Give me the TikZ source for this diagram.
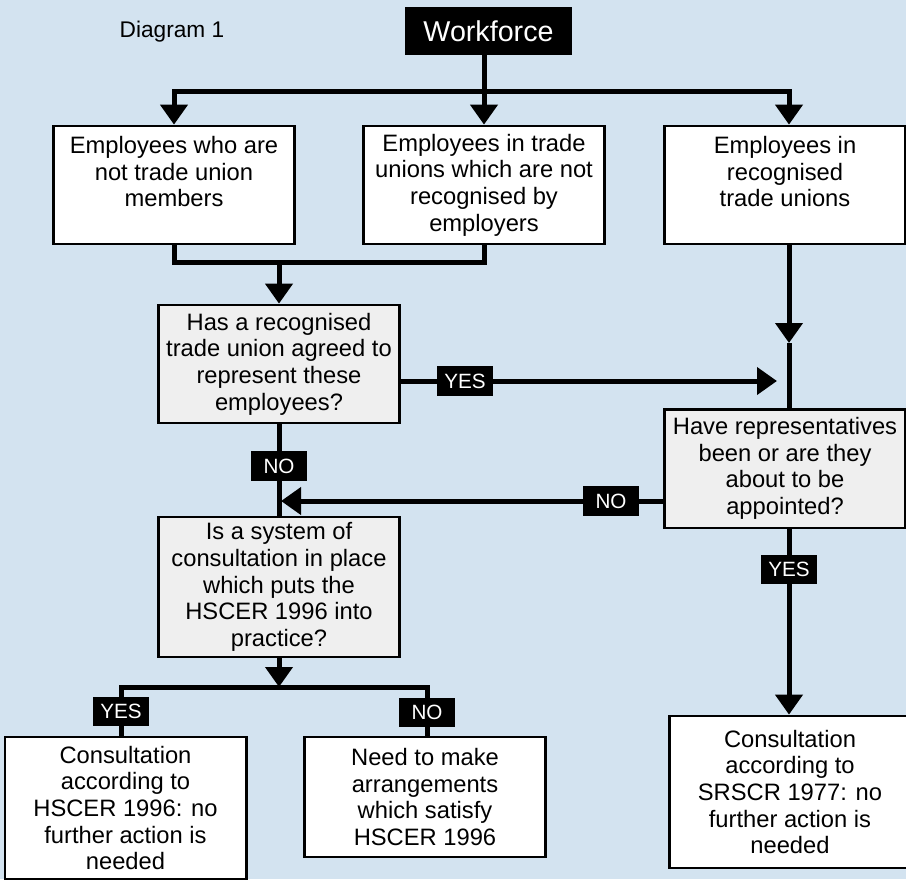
\documentclass[tikz,border=0pt]{standalone}
\usepackage{fontspec}
\setmainfont{Liberation Sans}
\usetikzlibrary{arrows.meta}
\definecolor{sfondo}{RGB}{211,227,240}
\definecolor{grigio}{RGB}{239,239,239}

\begin{document}
\begin{tikzpicture}[
        x=0.75pt, y=-0.75pt,
        % Stili generali
        txt/.style={font=\fontsize{17.8}{20}\selectfont, align=center},
        box/.style={txt, draw=black, line width=2pt, fill=white, inner sep=0pt, minimum width=181pt},
        question/.style={box, fill=grigio},
        tag/.style={fill=black, text=white, font=\fontsize{15.5}{16}\selectfont, inner sep=0pt, minimum width=42pt, minimum height=22pt},
        link/.style={line width=3.75pt},
        linkarrow/.style={link, -{Triangle[width=20pt, length=15pt]}}
    ]

    % 0. Sfondo (fissa anche i margini)
    \path[use as bounding box, fill=sfondo] (0,0) rectangle (906,879);

    % 1. Titolo e radice
    \node[txt, font=\fontsize{17}{20}\selectfont] (title) at (172,32) {Diagram 1};
    \node[fill=black, text=white, font=\fontsize{21.5}{24}\selectfont, inner sep=0pt,
          minimum width=125pt, minimum height=36pt] (workforce) at (488.5,31) {Workforce};

    % 2. Prima riga di caselle (testo in alto)
    \node[box, minimum height=88.5pt] (nonmembers) at (174,185) {Employees who are\\not trade union\\members\\\mbox{}};
    \node[box, minimum height=88.5pt] (notrecog) at (484,185) {Employees in trade\\unions which are not\\recognised by\\employers};
    \node[box, minimum height=88.5pt] (recog) at (785,185) {Employees in\\recognised\\trade unions\\\mbox{}};

    % 3. Domande
    \node[question, minimum height=88.5pt] (agreed) at (279,364) {Has a recognised\\trade union agreed to\\represent these\\employees?};
    \node[question, minimum height=89pt] (appointed) at (785,468.5) {Have representatives\\been or are they\\about to be\\appointed?};
    \node[question, minimum height=105pt] (system) at (279,587) {Is a system of\\consultation in place\\which puts the\\HSCER 1996 into\\practice?};

    % 4. Esiti
    \node[box, minimum height=106.5pt] (hscerok) at (125.5,808) {Consultation\\according to\\HSCER 1996: no\\further action is\\needed};
    \node[box, minimum height=90pt] (arrange) at (425,797) {Need to make\\arrangements\\which satisfy\\HSCER 1996};
    \node[box, minimum height=114pt] (srscrok) at (790,792) {Consultation\\according to\\SRSCR 1977: no\\further action is\\needed};

    % 5. Punti di snodo
    \coordinate (topbus) at (484,91);
    \coordinate (join) at (279,262);
    \coordinate (rightcol) at (789,0);
    \coordinate (tipdown) at (789,343);
    \coordinate (tipyes) at (777,381);
    \coordinate (tipno) at (281,501);
    \coordinate (lowbus) at (279,687);
    \coordinate (lowbusL) at (121,687);
    \coordinate (lowbusR) at (427,687);

    % 6. Collegamenti
    \draw[link] (workforce.south -| topbus) -- (topbus);
    \draw[linkarrow] (topbus) -| (nonmembers);
    \draw[linkarrow] (topbus) -- (notrecog);
    \draw[linkarrow] (topbus) -| (recog.north -| rightcol);

    \draw[link] (nonmembers) |- (join) -| (notrecog);
    \draw[linkarrow] (join) -- (agreed);

    \draw[linkarrow] (recog.south -| rightcol) -- (tipdown);
    \draw[link] (tipdown) -- (appointed.north -| rightcol);
    \draw[linkarrow] (agreed.east |- tipyes) -- (tipyes);
    \draw[linkarrow] (appointed.west |- tipno) -- (tipno);
    \draw[link] (agreed) -- (system);
    \draw[linkarrow] (appointed.south -| rightcol) -- (srscrok.north -| rightcol);

    \draw[linkarrow] (system) -- (lowbus);
    \draw[link] (hscerok.north -| lowbusL) |- (lowbusR) -- (arrange.north -| lowbusR);

    % 7. Etichette SI/NO
    \node[tag] (yesagreed) at (465,381) {YES};
    \node[tag] (noagreed) at (279,466) {NO};
    \node[tag] (noappointed) at (611,501) {NO};
    \node[tag] (yesappointed) at (789,569.5) {YES};
    \node[tag] (yessystem) at (121,711.5) {YES};
    \node[tag] (nosystem) at (427,712.5) {NO};

\end{tikzpicture}
\end{document}
